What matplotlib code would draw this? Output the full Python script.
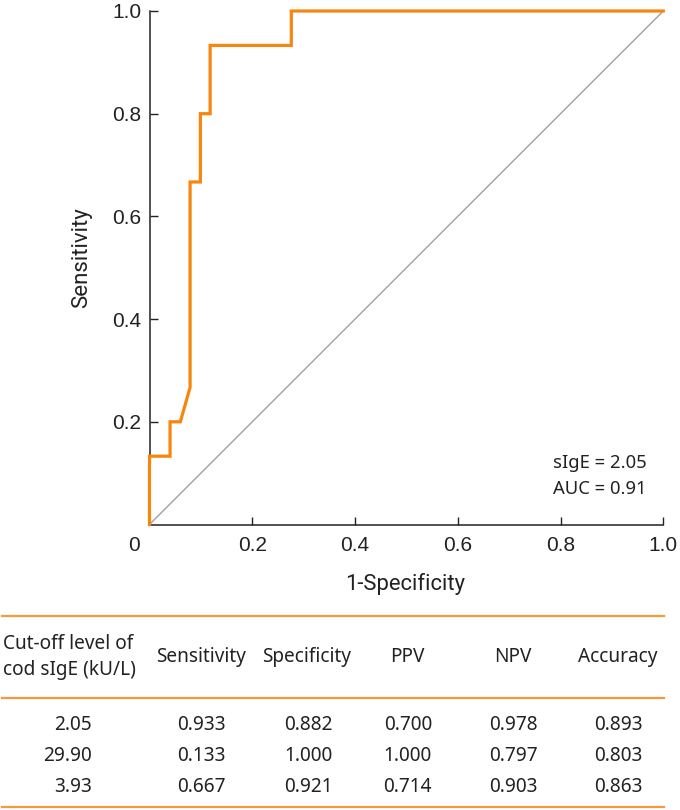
import matplotlib
matplotlib.use("Agg")
import matplotlib.pyplot as plt
from matplotlib.lines import Line2D

# ROC curve data
fpr = [0.0, 0.0, 0.040, 0.040, 0.060, 0.079, 0.079, 0.099, 0.099, 0.118, 0.118, 0.276, 0.276, 1.0]
tpr = [0.0, 0.133, 0.133, 0.200, 0.200, 0.267, 0.667, 0.667, 0.800, 0.800, 0.933, 0.933, 1.0, 1.0]
ticks = [0.2, 0.4, 0.6, 0.8, 1.0]
tick_labels = ["0.2", "0.4", "0.6", "0.8", "1.0"]
annot_lines = ["sIgE = 2.05", "AUC = 0.91"]

# Table data
headers = ["Cut-off level of\ncod sIgE (kU/L)", "Sensitivity", "Specificity", "PPV", "NPV", "Accuracy"]
cutoffs = ["2.05", "29.90", "3.93"]
sensitivity = ["0.933", "0.133", "0.667"]
specificity = ["0.882", "1.000", "0.921"]
ppv = ["0.700", "1.000", "0.714"]
npv = ["0.978", "0.797", "0.903"]
accuracy = ["0.893", "0.803", "0.863"]

W, H = 680, 810
fig = plt.figure(figsize=(W / 100, H / 100), dpi=100)
ax = fig.add_axes([149.5 / W, 1 - 524.5 / H, (663.3 - 149.5) / W, (524.5 - 11) / H])

ORANGE = "#F7860F"
ax.plot([0, 1], [0, 1], color="#A0A0A0", lw=1.0, zorder=1)
ax.plot(fpr, tpr, color=ORANGE, lw=2.3, solid_joinstyle="miter", zorder=3, clip_on=False)
ax.set_xlim(0, 1)
ax.set_ylim(0, 1)
for s in ["top", "right"]:
    ax.spines[s].set_visible(False)
for s in ["left", "bottom"]:
    ax.spines[s].set_linewidth(1.1)
    ax.spines[s].set_color("#222222")

ax.set_xticks(ticks)
ax.set_xticklabels(tick_labels)
ax.set_yticks(ticks)
ax.set_yticklabels(tick_labels)
ax.tick_params(direction="in", length=6, width=1.0, color="#222222",
               labelsize=15, labelcolor="#222222")
ax.tick_params(axis="x", pad=8.5)
ax.tick_params(axis="y", pad=6)
for lab in ax.get_xticklabels() + ax.get_yticklabels():
    lab.set_family("Liberation Sans")
ax.annotate("0", xy=(0, 0), xytext=(-11.2, -15.0), textcoords="offset points",
            ha="center", va="center", fontsize=15, family="Liberation Sans", color="#222222")

ax.set_ylabel("Sensitivity", family="Roboto", fontsize=16, color="#222222", labelpad=0)
ax.yaxis.set_label_coords((92.5 - 149.5) / (663.3 - 149.5), (524.5 - 258) / (524.5 - 11))
ax.set_xlabel("1-Specificity", family="Roboto", fontsize=15.8, color="#222222")
ax.xaxis.set_label_coords((405 - 149.5) / (663.3 - 149.5), -(573 - 524.5) / (524.5 - 11))

for i, t in enumerate(annot_lines):
    fig.text(553 / W, 1 - (463 + 26 * i) / H, t, family="Noto Sans", fontsize=13.3,
             color="#222222", ha="left", va="center")

# Table
TAB_ORANGE = "#F39A3C"
for yy in [615.7, 698, 807]:
    fig.add_artist(Line2D([2 / W, 664.3 / W], [1 - yy / H, 1 - yy / H], color=TAB_ORANGE, lw=1.6))

tfont = dict(family="Noto Sans", fontsize=13.7, color="#222222")
fig.text(3 / W, 1 - 657 / H, headers[0], ha="left", va="center", linespacing=1.45, **tfont)
header_centers = [201, 306.7, 407, 512.5, 618]
for h, cx in zip(headers[1:], header_centers):
    fig.text(cx / W, 1 - 657 / H, h, ha="center", va="center", **tfont)

columns = [cutoffs, sensitivity, specificity, ppv, npv, accuracy]
right_edges = [91.7, 226, 332.7, 432, 537.3, 642.3]
row_centers = [725, 756, 787.3]
for col, rx in zip(columns, right_edges):
    for val, ry in zip(col, row_centers):
        fig.text(rx / W, 1 - ry / H, val, ha="right", va="center", **tfont)

fig.savefig("out.png", dpi=100)
